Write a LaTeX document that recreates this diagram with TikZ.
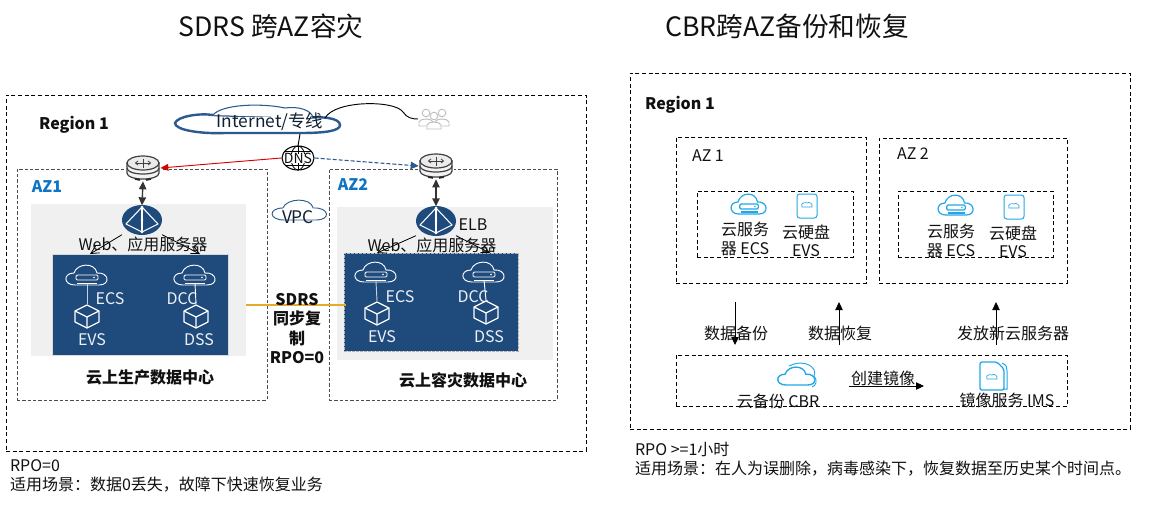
\documentclass[tikz,border=0pt]{standalone}
\usepackage{fontspec}
\setmainfont{Noto Sans CJK SC}
\usetikzlibrary{fit,arrows.meta,shapes.geometric}
\definecolor{navy}{HTML}{1F4A7C}
\definecolor{azblue}{HTML}{0F74C4}
\definecolor{iconblue}{HTML}{21A7E8}
\definecolor{grayfill}{HTML}{F0F0F0}
\definecolor{cloudline}{HTML}{2A5A8F}
\definecolor{gold}{HTML}{E5AC2B}
\definecolor{ink}{HTML}{111111}
\tikzset{
  every node/.style={inner sep=0pt,outer sep=0pt,text=ink},
  lbl/.style={font=\fontsize{12}{14}\selectfont,align=center,yshift=-.7pt},
  lblbig/.style={font=\fontsize{13}{15}\selectfont,align=center,text=black!65!cloudline},
  lblw/.style={lbl,text=white!92!navy},
  lblb/.style={font=\fontsize{12}{14.6}\selectfont\bfseries,align=center,yshift=-.7pt},
  lblleft/.style={lbl,anchor=west},
  title/.style={font=\fontsize{20}{24}\selectfont,yshift=-.5pt},
  dashbox/.style={draw=black,line width=.75pt,dash pattern=on 3pt off 2pt},
  azbox/.style={draw=black!70,line width=.75pt,dash pattern=on 2.5pt off 1.5pt},
  grayzone/.style={fill=grayfill},
  bluezone/.style={fill=navy,draw=black!15,line width=.75pt},
  bluezoned/.style={fill=navy,draw=black!30,line width=.75pt,dash pattern=on 2pt off 1pt},
  tipa/.style={-{Triangle[length=6pt,width=5.5pt]}},
  tipb/.style={{Triangle[length=6pt,width=5.5pt]}-{Triangle[length=6pt,width=5.5pt]}},
  pics/cloudicon/.style={code={
    \draw[line width=#1] (-12,10) .. controls (-24,10) and (-24,-2) .. (-13,-2)
      .. controls (-10,-12) and (8,-13) .. (10,-2)
      .. controls (22,-3) and (24,10) .. (12,10) -- cycle;
    \draw[line width=#1,rounded corners=1pt] (-11,0) rectangle (11,5);
    \draw[line width=#1] (-10,8) -- (10,8);
    \fill (7,2.5) circle (.9);
  }},
  pics/plaincloud/.style={code={
    \draw[line width=#1] (-12,10) .. controls (-24,10) and (-24,-2) .. (-13,-2)
      .. controls (-10,-12) and (8,-13) .. (10,-2)
      .. controls (22,-3) and (24,10) .. (12,10) -- cycle;
  }},
  pics/cube/.style={code={
    \draw[line width=.9pt,line join=round] (0,-11) -- (12,-5) -- (12,6) -- (0,12) -- (-12,6) -- (-12,-5) -- cycle;
    \draw[line width=.9pt,line join=round] (-12,-5) -- (0,1) -- (12,-5) (0,1) -- (0,12);
  }},
  pics/router/.style={code={
    \fill[white] (-18,-13) rectangle (18,13);
    \draw[black!75,line width=.9pt,fill=black!5] (-16,-5) -- (-16,5) .. controls (-16,13) and (16,13) .. (16,5) -- (16,-5) -- cycle;
    \draw[black!75,line width=.9pt] (-16,0) .. controls (-16,8) and (16,8) .. (16,0);
    \draw[black!75,line width=.9pt,fill=black!8] (0,-5) ellipse [x radius=16,y radius=7];
    \draw[black!75,line width=.6pt] (-7,-5) -- (7,-5) (0,-9.5) -- (0,-0.5);
    \draw[black!75,line width=.6pt] (-5,-7) -- (-7.5,-5) -- (-5,-3) (5,-7) -- (7.5,-5) -- (5,-3);
    \draw[black!85,line width=1.2pt] (-8,11) -- (-3,12) (3,12) -- (8,11);
  }},
  pics/elbicon/.style={code={
    \fill[navy] (0,0) ellipse [x radius=20,y radius=15];
    \draw[white,line width=.8pt,line join=round] (0,-13) -- (16,4) -- (0,12) -- (-16,4) -- cycle;
    \draw[white,line width=.8pt] (0,-13) -- (0,12);
    \fill[white] (0,-13) circle (1.5) (0,0) circle (1.3) (0,12) circle (1.3);
  }},
  pics/diskicon/.style={code={
    \draw[iconblue,line width=.75pt,rounded corners=2pt] (-10,-12) rectangle (10,12);
    \draw[iconblue,line width=.5pt] (-5,1) .. controls (-7,-3) and (-2,-4) .. (0,-3) .. controls (2,-5) and (6,-2) .. (5,1) -- cycle;
  }},
  pics/imsicon/.style={code={
    \draw[iconblue,line width=.75pt] (9,-13) .. controls (14,-11) and (14,-8) .. (14,-5) -- (14,13) -- (10,13);
    \draw[iconblue,line width=1pt,rounded corners=1.5pt] (-13,-14) -- (4,-14) -- (11,-7) -- (11,14) -- (-13,14) -- cycle;
    \draw[iconblue,line width=.5pt] (-6,3) .. controls (-8,-1) and (-3,-2) .. (-1,-1) .. controls (1,-3) and (5,0) .. (4,3) -- cycle;
  }},
  pics/globe/.style={code={
    \fill[white] (0,0) ellipse [x radius=16,y radius=12];
    \draw[black,line width=.8pt] (0,0) ellipse [x radius=16,y radius=12];
    \draw[black,line width=.6pt] (0,0) ellipse [x radius=7,y radius=12];
    \draw[black,line width=.6pt] (0,-12) -- (0,12) (-13,-7) -- (13,-7) (-13,7) -- (13,7);
    \fill[white] (-14,-4.5) rectangle (14,4.5);
  }},
  pics/users/.style={code={
    \foreach \dx/\dy in {-8/-3,8/-3,0/0}{
      \draw[black!25,line width=.7pt,fill=white] (\dx,\dy-3) circle (3.8);
      \draw[black!25,line width=.7pt,fill=white] (\dx-7,\dy+10) -- (\dx-7,\dy+6) .. controls (\dx-6,\dy+2) and (\dx+6,\dy+2) .. (\dx+7,\dy+6) -- (\dx+7,\dy+10) -- cycle;
    }
  }},
}
\newcommand{\areabox}[6]{\node[fit={(#3,#4)(#5,#6)},inner sep=0pt,#2] (#1) {};}
\begin{document}
\begin{tikzpicture}[x=.75pt,y=-.75pt]
\useasboundingbox (0,0) rectangle (1169,504);
\fill[white] (0,0) rectangle (1169,504);
% titles
\node[title] (t1) at (271,26) {SDRS 跨AZ容灾};
\node[title] (t2) at (787,26) {CBR跨AZ备份和恢复};
% left diagram zones
\areabox{regL}{dashbox}{6}{95}{586}{451}
\areabox{az1}{azbox}{17}{169}{267}{400}
\areabox{az2}{azbox}{329}{169}{557}{400}
\areabox{gray1}{grayzone}{31}{204}{246}{356}
\areabox{gray2}{grayzone}{337}{207}{553}{360}
\areabox{blue1}{bluezone}{52}{254}{228}{355}
\areabox{blue2}{bluezoned}{344}{253}{518}{351}
\node[lblb] (regLt) at (74,124) {Region 1};
\node[lblb,text=azblue] (az1t) at (47,186) {AZ1};
\node[lblb,text=azblue] (az2t) at (353,184) {AZ2};
% Internet cloud
\draw[cloudline,line width=1.8pt,fill=white] (175,123) .. controls (178,116) and (200,113) .. (213,115) -- (305,118) .. controls (322,116) and (340,118) .. (340,125) .. controls (340,131) and (325,133) .. (300,133) -- (225,133) .. controls (200,134) and (175,130) .. (175,123) -- cycle;
\draw[cloudline,line width=.8pt,fill=white] (213,115) .. controls (222,104) and (262,103) .. (285,108) .. controls (298,106) and (312,110) .. (313,118);
\fill[white] (200,117) rectangle (310,131);
\node[lblbig] (inett) at (270,122) {Internet/专线};
% DNS, users, routers
\node[minimum width=25pt,minimum height=18pt] (dns) at (298,158) {};
\pic at (dns) {globe};
\node[font=\fontsize{10.5}{11}\selectfont] (dnst) at (298,158) {DNS};
\node[minimum width=24pt,minimum height=14pt] (usr) at (434,119) {};
\pic at (usr) {users};
\node[minimum width=26pt,minimum height=20pt] (r1) at (143,168) {};
\pic at (r1) {router};
\node[minimum width=26pt,minimum height=20pt] (r2) at (436,166) {};
\pic at (r2) {router};
\node[minimum width=30pt,minimum height=22pt] (elb1) at (142,220) {};
\pic at (elb1) {elbicon};
\node[minimum width=30pt,minimum height=22pt] (elb2) at (436,221) {};
\pic at (elb2) {elbicon};
% VPC cloud
\node[minimum width=40pt,minimum height=18pt] (vpc) at (300,210) {};
\pic[cloudline,xscale=1.32] at (vpc) {plaincloud=.7pt};
\node[lblbig] (vpct) at (298,217) {VPC};
% connectors top
\coordinate (inetb) at (300,134);
\coordinate (inetr) at (325,118);
\draw[black,line width=.7pt] (inetb) -- (dns.north);
\draw[black,line width=.7pt] (inetr) .. controls (335,100) and (395,100) .. (403,112) .. controls (407,118) and (412,119) .. (usr.west);
\draw[draw=red!85!black,line width=.7pt,-{Triangle[length=6pt,width=5pt,fill=red!85!black]}] (dns.west) -- (r1.east);
\draw[draw=cloudline,line width=.8pt,dash pattern=on 3pt off 1.5pt,-{Triangle[length=6pt,width=5.5pt,fill=cloudline]}] (dns.east) -- (r2.west);
\draw[tipb,black!80,line width=1pt] (r1.south) -- (elb1.north);
\draw[tipb,black!80,line width=1pt] (r2.south) -- (elb2.north);
\coordinate (b1l) at (90,254); \coordinate (b1r) at (200,254);
\coordinate (b2l) at (377,253); \coordinate (b2r) at (490,253);
\draw[black,line width=.6pt,-{Straight Barb[length=6pt,width=6pt]}] (elb1.south west) -- (b1l);
\draw[black,line width=.6pt,-{Straight Barb[length=6pt,width=6pt]}] (elb1.south east) -- (b1r);
\draw[black,line width=.6pt,-{Straight Barb[length=6pt,width=6pt]}] (elb2.south west) -- (b2l);
\draw[black,line width=.6pt,-{Straight Barb[length=6pt,width=6pt]}] (elb2.south east) -- (b2r);
\node[lbl] (web1) at (143,243) {Web、应用服务器};
\node[lbl] (web2) at (432,244) {Web、应用服务器};
\node[lbl] (elbt) at (473,224) {ELB};
% sdrs link
\coordinate (s1) at (246,305); \coordinate (s2) at (346,305);
\draw[gold,line width=.8pt] (s1) -- (s2);
\node[lblb] (sdrs) at (297,327.5) {SDRS\\同步复\\制\\RPO=0};
% blue 1 content
\node[minimum width=30pt,minimum height=14pt] (c11) at (87,275) {};
\pic[white] at (c11) {cloudicon=.7pt};
\node[minimum width=18pt,minimum height=18pt] (k11) at (87,316) {};
\pic[white] at (k11) {cube};
\draw[white!75!navy,line width=.7pt] (c11.south) -- (k11.north);
\node[lblw] (ecs1) at (110,298) {ECS};
\node[lblw] (evs1) at (92,339) {EVS};
\node[minimum width=28pt,minimum height=12pt] (c12) at (195,275) {};
\pic[white] at (c12) {cloudicon=.7pt};
\node[minimum width=18pt,minimum height=18pt] (k12) at (196,316) {};
\pic[white] at (k12) {cube};
\draw[white,line width=.7pt] (c12.south) -- (k12.north);
\node[lblw] (dcc1) at (182,298) {DCC};
\node[lblw] (dss1) at (199,339) {DSS};
% blue 2 content
\node[minimum width=30pt,minimum height=14pt] (c21) at (376,272) {};
\pic[white] at (c21) {cloudicon=.7pt};
\node[minimum width=18pt,minimum height=18pt] (k21) at (377,313) {};
\pic[white] at (k21) {cube};
\draw[white!75!navy,line width=.7pt] (c21.south) -- (k21.north);
\node[lblw] (ecs2) at (400,296) {ECS};
\node[lblw] (evs2) at (382,336) {EVS};
\node[minimum width=28pt,minimum height=12pt] (c22) at (484,272) {};
\pic[white] at (c22) {cloudicon=.7pt};
\node[minimum width=18pt,minimum height=18pt] (k22) at (486,312) {};
\pic[white] at (k22) {cube};
\draw[white,line width=.7pt] (c22.south) -- (k22.north);
\node[lblw] (dcc2) at (473,296) {DCC};
\node[lblw] (dss2) at (489,336) {DSS};
\node[lblb] (dc1) at (150,377) {云上生产数据中心};
\node[lblb] (dc2) at (463,379) {云上容灾数据中心};
\node[lblleft] (rpoL) at (10,465) {RPO=0};
\node[lblleft] (useL) at (10,484) {适用场景：数据0丢失，故障下快速恢复业务};
% right diagram
\areabox{regR}{dashbox}{630}{73}{1130}{429}
\areabox{raz1}{dashbox}{676}{137}{866}{283}
\areabox{raz2}{dashbox}{879}{138}{1067}{283}
\areabox{in1}{dashbox}{697}{191}{853}{257}
\areabox{in2}{dashbox}{898}{191}{1053}{257}
\areabox{bot}{dashbox}{676}{355}{1067}{406}
\node[lblb] (regRt) at (680,104) {Region 1};
\node[lbl] (raz1t) at (708,155) {AZ 1};
\node[lbl] (raz2t) at (913,153) {AZ 2};
\node[minimum width=25pt,minimum height=14pt] (rc1) at (749,204) {};
\pic[iconblue,xscale=.85] at (rc1) {cloudicon=.9pt};
\node[minimum width=15pt,minimum height=18pt] (rd1) at (807,206) {};
\pic at (rd1) {diskicon};
\node[lbl] (rcl1) at (745,238) {云服务\\器 ECS};
\node[lbl] (rdl1) at (806,240) {云硬盘\\EVS};
\node[minimum width=25pt,minimum height=14pt] (rc2) at (956,205) {};
\pic[iconblue,xscale=.85] at (rc2) {cloudicon=.9pt};
\node[minimum width=15pt,minimum height=18pt] (rd2) at (1014,207) {};
\pic at (rd2) {diskicon};
\node[lbl] (rcl2) at (951,240) {云服务\\器 ECS};
\node[lbl] (rdl2) at (1013,241) {云硬盘\\EVS};
\node[minimum width=26pt,minimum height=18pt] (cbr) at (798,376) {};
\pic[iconblue,scale=.9,xshift=-1pt] at (cbr) {plaincloud=1pt};
\draw[iconblue,line width=.7pt] (789,366) .. controls (805,358) and (818,368) .. (814,376) .. controls (818,380) and (816,386) .. (812,387);
\node[lbl] (cbrt) at (778,400) {云备份 CBR};
\node[minimum width=20pt,minimum height=22pt] (ims) at (993,376) {};
\pic at (ims) {imsicon};
\node[lbl] (imst) at (1007,399) {镜像服务 IMS};
\coordinate (a1t) at (735,302); \coordinate (a1b) at (735,345);
\coordinate (a2t) at (839,302); \coordinate (a2b) at (839,345);
\coordinate (a3t) at (996,302); \coordinate (a3b) at (996,345);
\coordinate (cr1) at (849,386); \coordinate (cr2) at (924,386);
\draw[tipa,black,line width=.7pt] (a1t) -- (a1b);
\draw[tipa,black,line width=.7pt] (a2b) -- (a2t);
\draw[tipa,black,line width=.7pt] (a3b) -- (a3t);
\draw[tipa,black,line width=.7pt] (cr1) -- (cr2);
\node[lbl] (l1) at (736,332) {数据备份};
\node[lbl] (l2) at (840,332) {数据恢复};
\node[lbl] (l3) at (1013,332) {发放新云服务器};
\node[lbl] (l4) at (883,377) {创建镜像};
\node[lblleft] (rpoR) at (635,449) {RPO >=1小时};
\node[lblleft] (useR) at (635,468) {适用场景：在人为误删除，病毒感染下，恢复数据至历史某个时间点。};
\end{tikzpicture}
\end{document}
